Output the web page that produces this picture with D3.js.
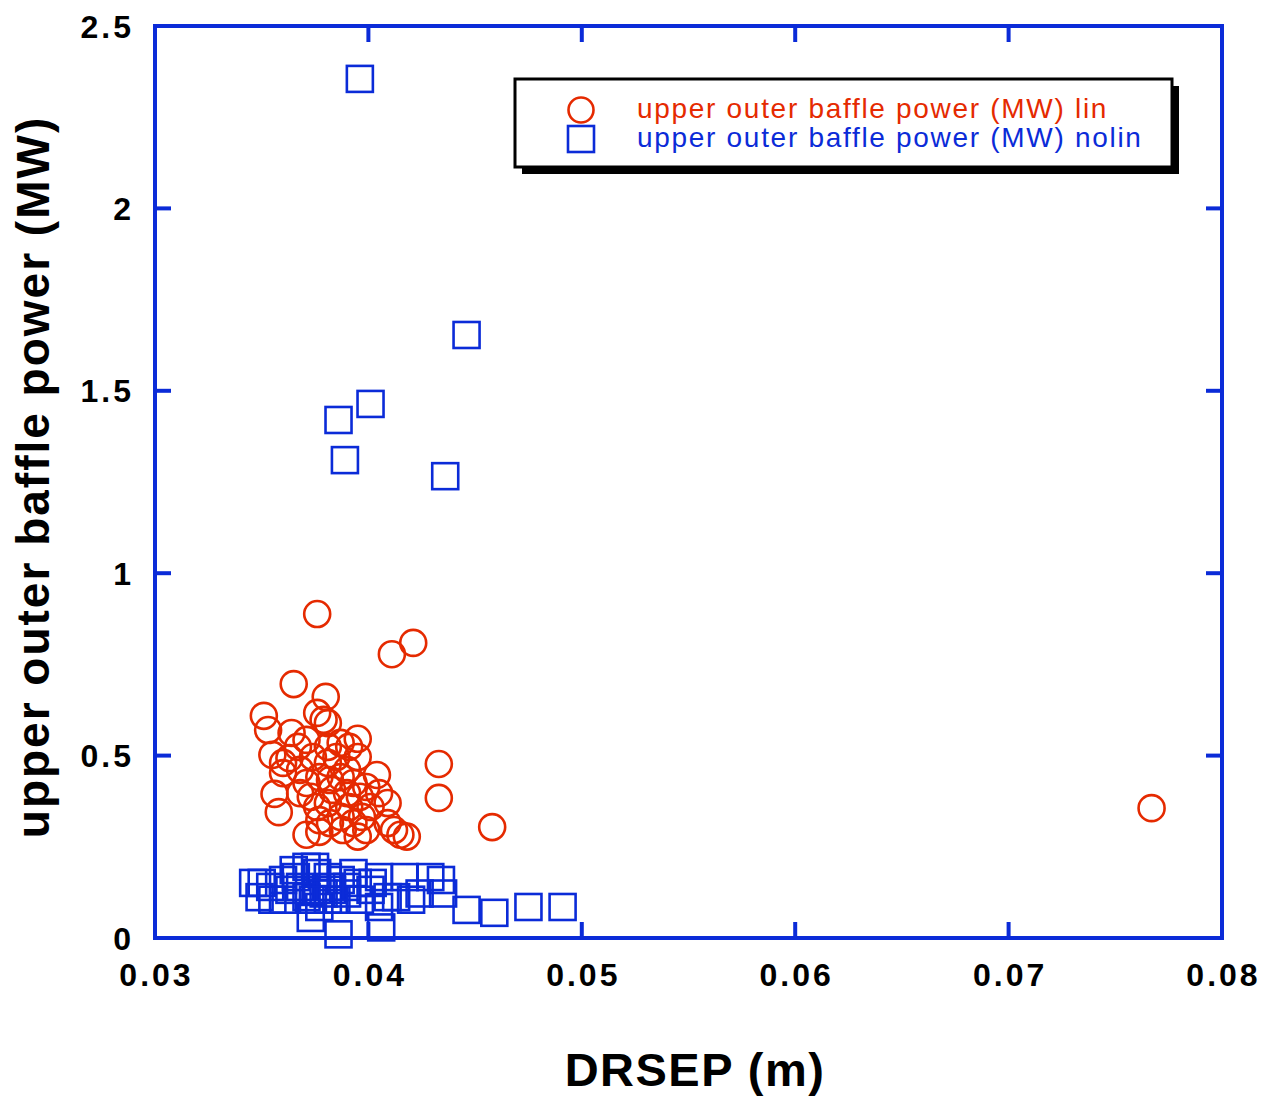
<!DOCTYPE html>
<html>
<head>
<meta charset="utf-8">
<script src="https://cdn.jsdelivr.net/npm/d3@7"></script>
<style>
  body { margin: 0; background: #fff; }
  svg { font-family: "Liberation Sans", Arial, sans-serif; }
</style>
</head>
<body>
<svg id="chart"></svg>
<script>
// upper outer baffle power vs DRSEP, lin / nolin
const linX = [0.0376, 0.0411, 0.0421, 0.0365, 0.0380, 0.0351, 0.0353, 0.0364, 0.0376, 0.0379,
  0.0381, 0.0395, 0.0355, 0.0363, 0.0360, 0.0356, 0.0358, 0.0433, 0.0433, 0.0371,
  0.0377, 0.0404, 0.0405, 0.0409, 0.0415, 0.0418, 0.0395, 0.0387, 0.0391, 0.0381,
  0.0374, 0.0368, 0.0371, 0.0368, 0.0373, 0.0376, 0.0381, 0.0383, 0.0387, 0.0390,
  0.0393, 0.0396, 0.0391, 0.0387, 0.0393, 0.0397, 0.0399, 0.0395, 0.0388, 0.0382,
  0.0377, 0.0381, 0.0385, 0.0377, 0.0382, 0.0390, 0.0399, 0.0401, 0.0409, 0.0412,
  0.0367, 0.0360, 0.0371, 0.0458, 0.0767];
const linY = [0.888, 0.778, 0.809, 0.696, 0.661, 0.609, 0.570, 0.562, 0.617, 0.598,
  0.589, 0.546, 0.502, 0.493, 0.452, 0.395, 0.345, 0.477, 0.384, 0.283,
  0.291, 0.447, 0.397, 0.370, 0.283, 0.278, 0.496, 0.535, 0.524, 0.524,
  0.496, 0.461, 0.425, 0.397, 0.387, 0.359, 0.370, 0.406, 0.441, 0.461,
  0.425, 0.387, 0.359, 0.332, 0.315, 0.332, 0.296, 0.278, 0.296, 0.315,
  0.323, 0.480, 0.496, 0.441, 0.433, 0.397, 0.414, 0.359, 0.315, 0.296,
  0.524, 0.480, 0.543, 0.304, 0.356];

const nolinX = [0.0396, 0.0446, 0.0386, 0.0401, 0.0389, 0.0436, 0.0386, 0.0406, 0.0446, 0.0459,
  0.0475, 0.0491, 0.0435, 0.0429, 0.0417, 0.0405, 0.0375, 0.0350, 0.0355, 0.0360,
  0.0373, 0.0377, 0.0366, 0.0368, 0.0381, 0.0383, 0.0390, 0.0395, 0.0396, 0.0409,
  0.0413, 0.0405, 0.0424, 0.0420, 0.0349, 0.0354, 0.0363, 0.0371, 0.0376, 0.0381,
  0.0385, 0.0387, 0.0376, 0.0371, 0.0365, 0.0393, 0.0401, 0.0402, 0.0434, 0.0360,
  0.0346, 0.0382, 0.0390, 0.0379, 0.0374];
const nolinY = [2.355, 1.653, 1.420, 1.464, 1.310, 1.266, 0.010, 0.029, 0.077, 0.069,
  0.085, 0.085, 0.122, 0.167, 0.167, 0.167, 0.195, 0.151, 0.105, 0.105,
  0.055, 0.085, 0.167, 0.140, 0.167, 0.132, 0.122, 0.151, 0.105, 0.112,
  0.112, 0.085, 0.122, 0.105, 0.112, 0.140, 0.132, 0.112, 0.132, 0.105,
  0.105, 0.159, 0.178, 0.195, 0.186, 0.178, 0.132, 0.151, 0.159, 0.159,
  0.151, 0.140, 0.140, 0.122, 0.105];

const xTicks = [0.03, 0.04, 0.05, 0.06, 0.07, 0.08];
const yTicks = [0, 0.5, 1, 1.5, 2, 2.5];
const seriesNames = ["upper outer baffle power (MW) lin", "upper outer baffle power (MW) nolin"];

const red = "#e52a00", blue = "#0b2bd8";
const W = 1266, H = 1097;
const margin = { top: 26, right: 44, bottom: 159, left: 155 },
    width = W - margin.left - margin.right,
    height = H - margin.top - margin.bottom;

const svg = d3.select("#chart").attr("width", W).attr("height", H);
const g = svg.append("g").attr("transform", `translate(${margin.left},${margin.top})`);

const x = d3.scaleLinear().domain([0.03, 0.08]).range([0, width]);
const y = d3.scaleLinear().domain([0, 2.5]).range([height, 0]);

// points first, frame on top
const lin = linX.map((v, i) => ({ x: v, y: linY[i] }));
const nolin = nolinX.map((v, i) => ({ x: v, y: nolinY[i] }));

const sq = 26;
g.selectAll(".sq").data(nolin).enter().append("rect")
    .attr("x", d => x(d.x) - sq / 2)
    .attr("y", d => y(d.y) - sq / 2)
    .attr("width", sq).attr("height", sq)
    .attr("fill", "none").attr("stroke", blue).attr("stroke-width", 2.6);

g.selectAll(".ci").data(lin).enter().append("circle")
    .attr("cx", d => x(d.x)).attr("cy", d => y(d.y))
    .attr("r", 13)
    .attr("fill", "none").attr("stroke", red).attr("stroke-width", 2.6);

// frame and ticks
g.append("rect").attr("width", width).attr("height", height)
    .attr("fill", "none").attr("stroke", blue).attr("stroke-width", 4);

const tickLen = 16;
const innerX = xTicks.slice(1, -1), innerY = yTicks.slice(1, -1);
innerX.forEach(t => {
    g.append("line").attr("x1", x(t)).attr("x2", x(t)).attr("y1", height).attr("y2", height - tickLen)
        .attr("stroke", blue).attr("stroke-width", 4);
    g.append("line").attr("x1", x(t)).attr("x2", x(t)).attr("y1", 0).attr("y2", tickLen)
        .attr("stroke", blue).attr("stroke-width", 4);
});
innerY.forEach(t => {
    g.append("line").attr("x1", 0).attr("x2", tickLen).attr("y1", y(t)).attr("y2", y(t))
        .attr("stroke", blue).attr("stroke-width", 4);
    g.append("line").attr("x1", width).attr("x2", width - tickLen).attr("y1", y(t)).attr("y2", y(t))
        .attr("stroke", blue).attr("stroke-width", 4);
});

// tick labels
g.selectAll(".xl").data(xTicks).enter().append("text")
    .attr("x", d => x(d) + 1.5).attr("y", height + 48)
    .attr("text-anchor", "middle")
    .style("font-size", "32px").style("font-weight", "bold").style("letter-spacing", "3px")
    .text(d => d3.format(".2f")(d));

g.selectAll(".yl").data(yTicks).enter().append("text")
    .attr("x", -21).attr("y", d => y(d)).attr("dy", "0.36em")
    .attr("text-anchor", "end")
    .style("font-size", "32px").style("font-weight", "bold").style("letter-spacing", "3px")
    .text(d => d);

// axis titles
svg.append("text")
    .attr("x", 695).attr("y", 1086)
    .attr("text-anchor", "middle")
    .style("font-size", "47px").style("font-weight", "bold").style("letter-spacing", "1.5px")
    .text("DRSEP (m)");

svg.append("text")
    .attr("transform", `translate(49,477) rotate(-90)`)
    .attr("text-anchor", "middle")
    .style("font-size", "46px").style("font-weight", "bold").style("letter-spacing", "2px")
    .text("upper outer baffle power (MW)");

// legend
const lx = 515, ly = 79, lw = 657, lh = 88;
svg.append("rect").attr("x", lx + 7).attr("y", ly + 7).attr("width", lw).attr("height", lh).attr("fill", "#000");
svg.append("rect").attr("x", lx).attr("y", ly).attr("width", lw).attr("height", lh)
    .attr("fill", "#fff").attr("stroke", "#000").attr("stroke-width", 3);

const legend = svg.selectAll(".legend").data(seriesNames).enter().append("g")
    .attr("transform", (d, i) => `translate(${lx},${ly + 31 + i * 29})`);

legend.filter((d, i) => i === 0).append("circle")
    .attr("cx", 66).attr("cy", 0).attr("r", 12.5)
    .attr("fill", "none").attr("stroke", red).attr("stroke-width", 2.6);
legend.filter((d, i) => i === 1).append("rect")
    .attr("x", 53).attr("y", -13).attr("width", 26).attr("height", 26)
    .attr("fill", "none").attr("stroke", blue).attr("stroke-width", 2.6);

legend.append("text")
    .attr("x", 122).attr("y", 8)
    .style("font-size", "28px").style("letter-spacing", "1.7px")
    .attr("fill", (d, i) => i === 0 ? red : blue)
    .text(d => d);
</script>
</body>
</html>
